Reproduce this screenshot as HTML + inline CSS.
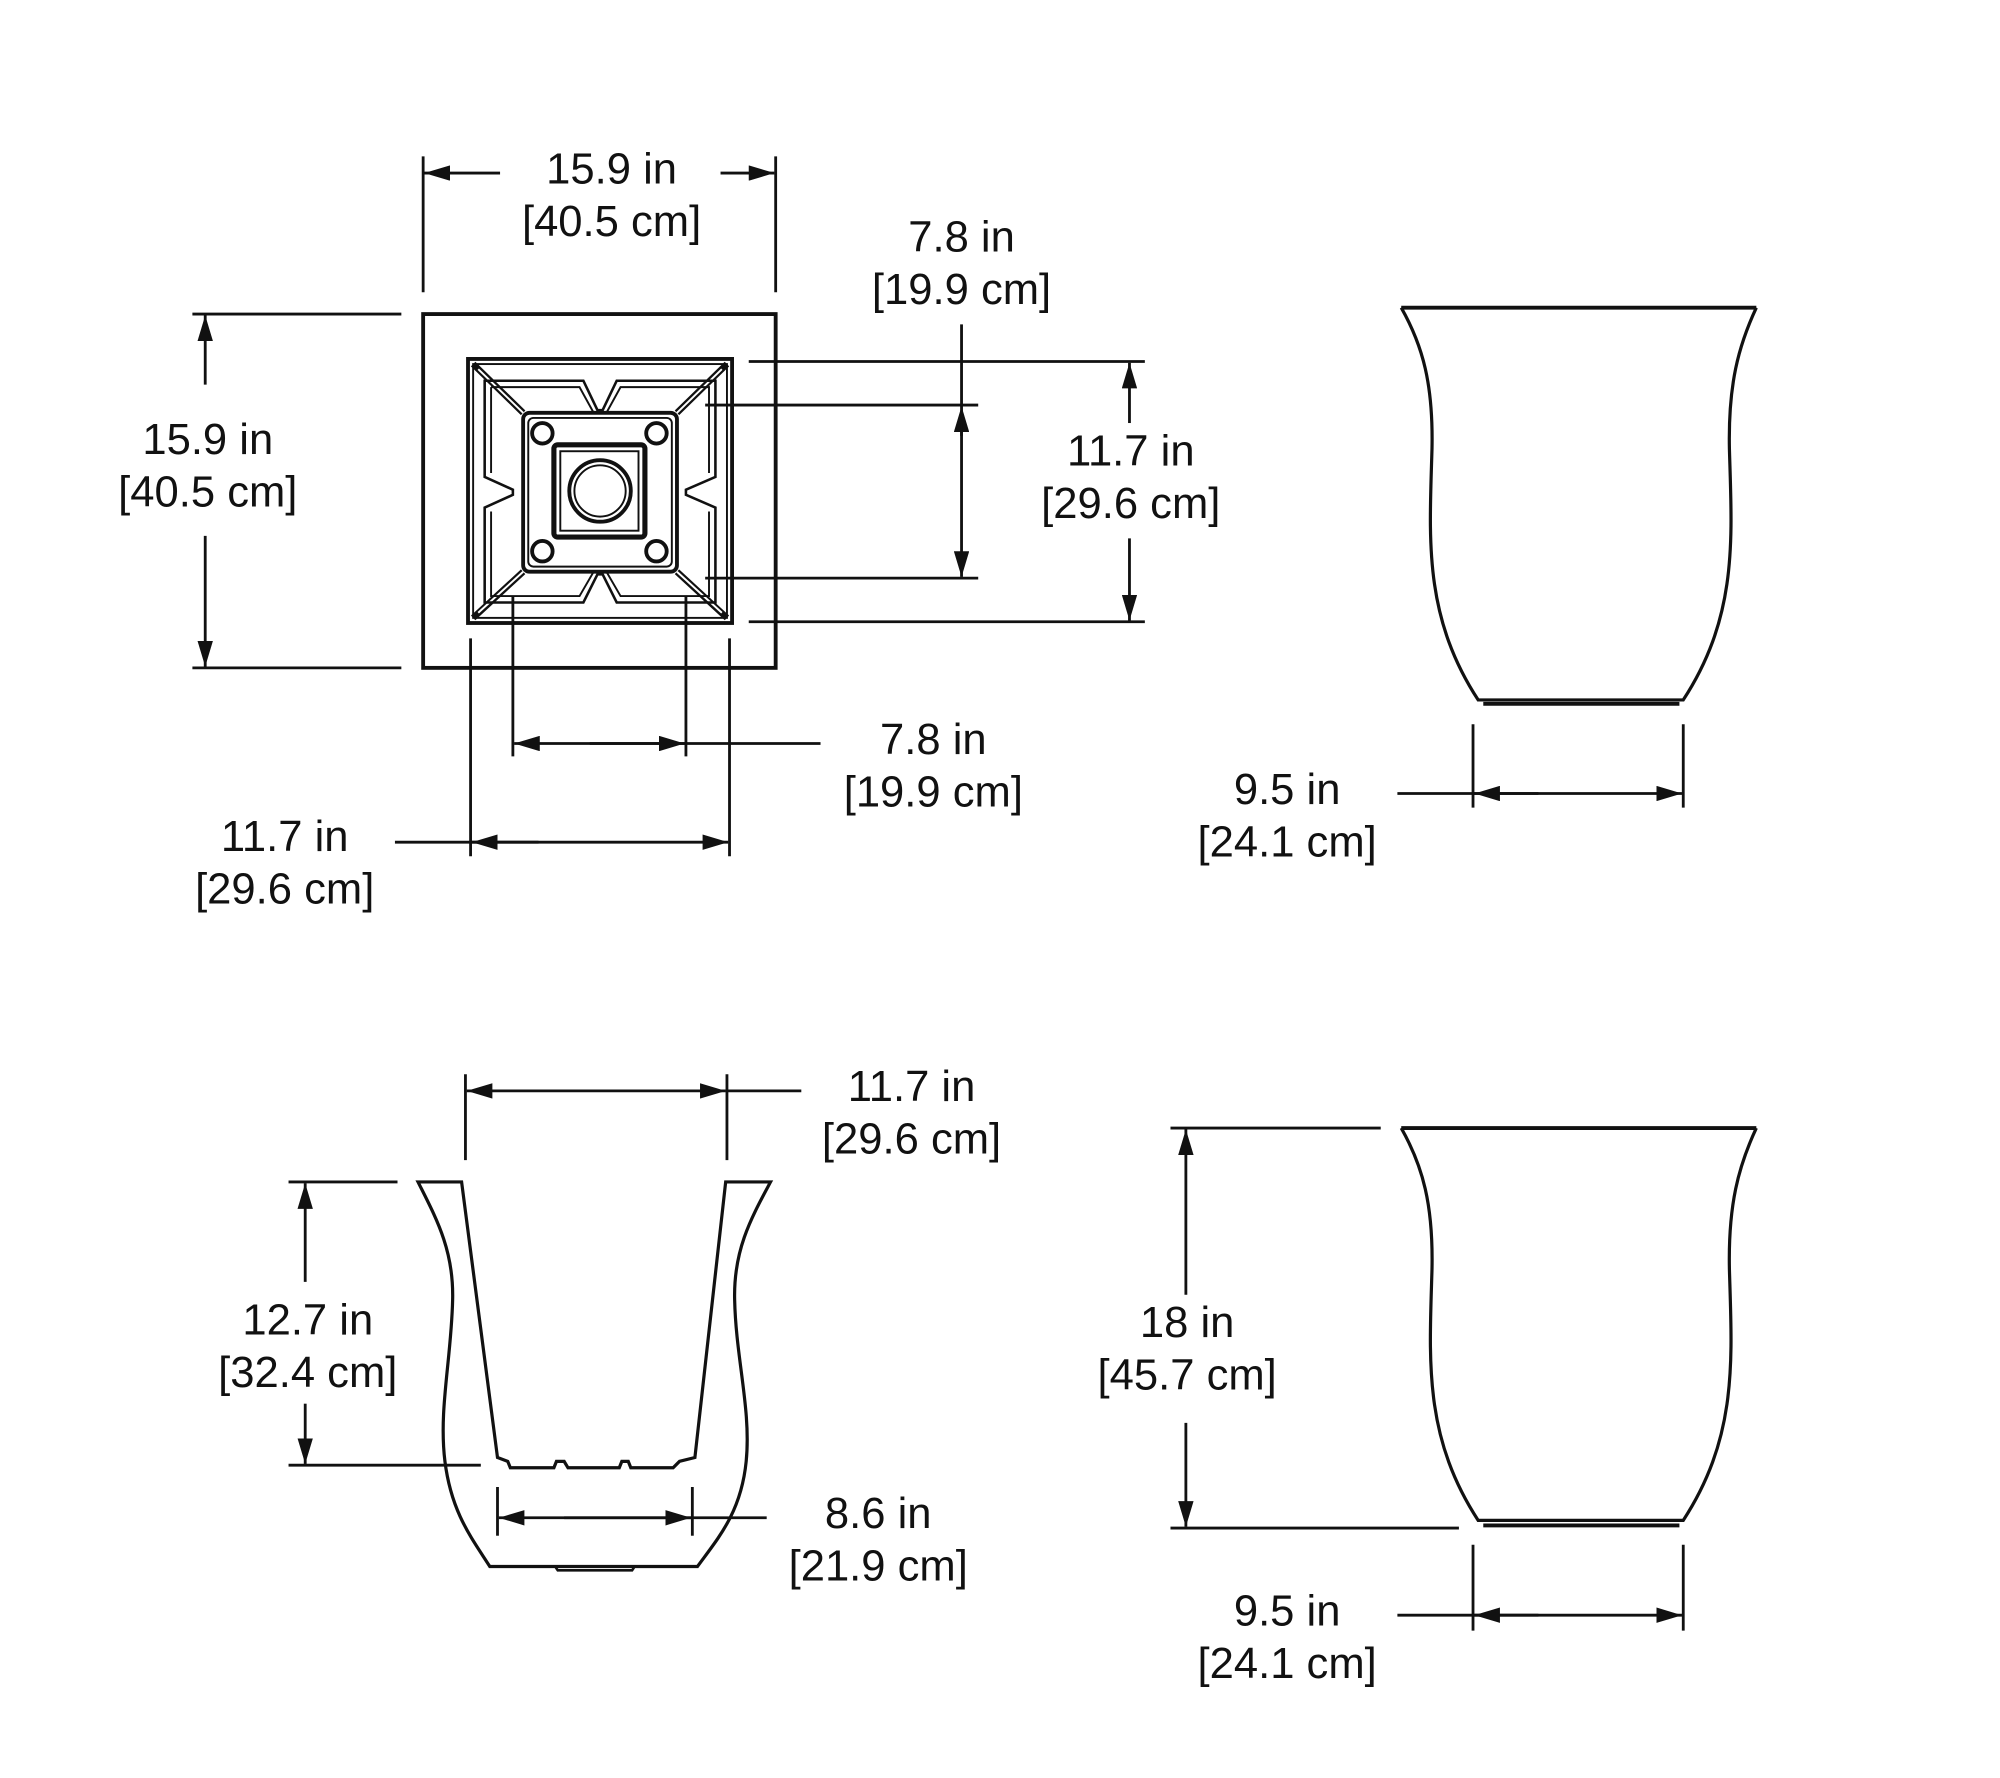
<!DOCTYPE html>
<html><head><meta charset="utf-8"><style>
html,body{margin:0;padding:0;background:#fff;}
svg{display:block;}
text{font-family:"Liberation Sans",sans-serif;font-size:34px;fill:#111;text-anchor:middle;}
</style></head><body>
<svg width="2000" height="1778" viewBox="0 0 1560 1387" xmlns="http://www.w3.org/2000/svg">
<defs>
<marker id="a" viewBox="0 0 20 12" refX="20" refY="6" markerWidth="20" markerHeight="12" markerUnits="userSpaceOnUse" orient="auto"><path d="M0,0 L20,6 L0,12 Z" fill="#111"/></marker>
<marker id="b" viewBox="0 0 20 12" refX="0" refY="6" markerWidth="20" markerHeight="12" markerUnits="userSpaceOnUse" orient="auto"><path d="M20,0 L0,6 L20,12 Z" fill="#111"/></marker>
</defs>
<g stroke="#111" stroke-width="2.2" fill="none">
<line x1="330" y1="122" x2="330" y2="228"/><line x1="605" y1="122" x2="605" y2="228"/>
<line x1="390" y1="135" x2="331" y2="135" marker-end="url(#a)"/>
<line x1="562" y1="135" x2="604" y2="135" marker-end="url(#a)"/>
<line x1="150" y1="245" x2="313" y2="245"/><line x1="150" y1="521" x2="313" y2="521"/>
<line x1="160" y1="300" x2="160" y2="246" marker-end="url(#a)"/>
<line x1="160" y1="418" x2="160" y2="520" marker-end="url(#a)"/>
<rect x="330" y="245" width="275" height="276" stroke-width="3"/>
<rect x="365" y="280" width="206" height="206" stroke-width="3"/>
<rect x="369" y="284" width="198" height="198" stroke-width="1.5"/>
<path d="M369 284 L408 322 M567 284 L528 322 M369 482 L408 446 M567 482 L528 446" stroke-width="5"/>
<path d="M373 288 L408 322 M563 288 L528 322 M373 478 L408 446 M563 478 L528 446" stroke="#fff" stroke-width="1.5"/>
<path d="M378 297 L455 297 L466 320 L470 320 L481 297 L558 297 L558 372 L535 382 L535 386 L558 396 L558 470 L481 470 L470 448 L466 448 L455 470 L378 470 L378 396 L400 386 L400 382 L378 372 Z" stroke-width="2"/>
<path d="M383 302 L452 302 L463 322 M473 322 L484 302 L553 302 L553 369 M553 399 L553 465 L484 465 L473 446 M463 446 L452 465 L383 465 L383 399 M383 369 L383 302" stroke-width="1.5"/>
<rect x="408" y="322" width="120" height="124" rx="5" stroke-width="3"/>
<rect x="412" y="326" width="112" height="116" rx="4" stroke-width="1.5"/>
<rect x="432" y="347" width="71" height="72" rx="3" stroke-width="4"/>
<rect x="437" y="352" width="61" height="62" stroke-width="1.5"/>
<circle cx="468" cy="383" r="24" stroke-width="3"/><circle cx="468" cy="383" r="20" stroke-width="1.5"/>
<circle cx="423" cy="338" r="8" stroke-width="3"/><circle cx="512" cy="338" r="8" stroke-width="3"/>
<circle cx="423" cy="430" r="8" stroke-width="3"/><circle cx="512" cy="430" r="8" stroke-width="3"/>
<line x1="584" y1="282" x2="893" y2="282"/><line x1="584" y1="485" x2="893" y2="485"/>
<line x1="881" y1="330" x2="881" y2="283" marker-end="url(#a)"/>
<line x1="881" y1="420" x2="881" y2="484" marker-end="url(#a)"/>
<line x1="550" y1="316" x2="763" y2="316"/><line x1="550" y1="451" x2="763" y2="451"/>
<line x1="750" y1="253" x2="750" y2="317"/>
<line x1="750" y1="340" x2="750" y2="317" marker-end="url(#a)"/>
<line x1="750" y1="330" x2="750" y2="450" marker-end="url(#a)"/>
<line x1="367" y1="498" x2="367" y2="668"/><line x1="569" y1="498" x2="569" y2="668"/>
<line x1="400" y1="465" x2="400" y2="590"/><line x1="535" y1="465" x2="535" y2="590"/>
<line x1="640" y1="580" x2="401" y2="580" marker-end="url(#a)"/>
<line x1="460" y1="580" x2="534" y2="580" marker-end="url(#a)"/>
<line x1="308" y1="657" x2="568" y2="657" marker-end="url(#a)"/>
<line x1="420" y1="657" x2="368" y2="657" marker-end="url(#a)"/>

<path d="M1093 240 L1370 240" stroke-width="3"/>
<path d="M1093 240 C1110 270 1118 300 1117 350 C1115 420 1110 480 1153 546 L1313 546 C1356 480 1351 420 1349 350 C1348 300 1356 270 1370 240" stroke-width="2.5"/>
<path d="M1157 549 L1310 549" stroke-width="3"/>
<line x1="1149" y1="565" x2="1149" y2="630"/><line x1="1313" y1="565" x2="1313" y2="630"/>
<line x1="1090" y1="619" x2="1312" y2="619" marker-end="url(#a)"/>
<line x1="1200" y1="619" x2="1150" y2="619" marker-end="url(#a)"/>

<path d="M1093 880 L1370 880" stroke-width="3"/>
<path d="M1093 880 C1110 910 1118 940 1117 990 C1115 1060 1110 1120 1153 1186 L1313 1186 C1356 1120 1351 1060 1349 990 C1348 940 1356 910 1370 880" stroke-width="2.5"/>
<path d="M1157 1190 L1310 1190" stroke-width="3"/>
<line x1="913" y1="880" x2="1077" y2="880"/><line x1="913" y1="1192" x2="1138" y2="1192"/>
<line x1="925" y1="1010" x2="925" y2="881" marker-end="url(#a)"/>
<line x1="925" y1="1110" x2="925" y2="1191" marker-end="url(#a)"/>
<line x1="1149" y1="1205" x2="1149" y2="1272"/><line x1="1313" y1="1205" x2="1313" y2="1272"/>
<line x1="1090" y1="1260" x2="1312" y2="1260" marker-end="url(#a)"/>
<line x1="1200" y1="1260" x2="1150" y2="1260" marker-end="url(#a)"/>

<path d="M360 922 L326 922 C340 950 354 975 353 1014 C352 1060 342 1100 347 1140 C352 1180 368 1200 382 1222 L544 1222 C560 1200 578 1180 582 1140 C586 1100 574 1060 573 1014 C572 975 586 950 601 922 L566 922 L542 1137 L530 1140 L525 1145 L492 1145 L490 1140 L485 1140 L483 1145 L443 1145 L440 1140 L434 1140 L432 1145 L398 1145 L396 1140 L388 1137 Z" stroke-width="2.5"/>
<path d="M433 1222 L435 1225 L493 1225 L495 1222" stroke-width="2"/>
<line x1="363" y1="838" x2="363" y2="905"/><line x1="567" y1="838" x2="567" y2="905"/>
<line x1="364" y1="851" x2="566" y2="851" marker-start="url(#b)" marker-end="url(#a)"/>
<line x1="567" y1="851" x2="625" y2="851"/>
<line x1="225" y1="922" x2="310" y2="922"/><line x1="225" y1="1143" x2="375" y2="1143"/>
<line x1="238" y1="1000" x2="238" y2="923" marker-end="url(#a)"/>
<line x1="238" y1="1095" x2="238" y2="1142" marker-end="url(#a)"/>
<line x1="388" y1="1160" x2="388" y2="1198"/><line x1="540" y1="1160" x2="540" y2="1198"/>
<line x1="598" y1="1184" x2="389" y2="1184" marker-end="url(#a)"/>
<line x1="440" y1="1184" x2="539" y2="1184" marker-end="url(#a)"/>
</g>
<g>
<text x="477" y="143">15.9 in</text><text x="477" y="184">[40.5 cm]</text>
<text x="162" y="354">15.9 in</text><text x="162" y="395">[40.5 cm]</text>
<text x="750" y="196">7.8 in</text><text x="750" y="237">[19.9 cm]</text>
<text x="882" y="363">11.7 in</text><text x="882" y="404">[29.6 cm]</text>
<text x="728" y="588">7.8 in</text><text x="728" y="629">[19.9 cm]</text>
<text x="222" y="664">11.7 in</text><text x="222" y="705">[29.6 cm]</text>
<text x="1004" y="627">9.5 in</text><text x="1004" y="668">[24.1 cm]</text>
<text x="711" y="859">11.7 in</text><text x="711" y="900">[29.6 cm]</text>
<text x="240" y="1041">12.7 in</text><text x="240" y="1082">[32.4 cm]</text>
<text x="685" y="1192">8.6 in</text><text x="685" y="1233">[21.9 cm]</text>
<text x="926" y="1043">18 in</text><text x="926" y="1084">[45.7 cm]</text>
<text x="1004" y="1268">9.5 in</text><text x="1004" y="1309">[24.1 cm]</text>
</g>
</svg>
</body></html>
